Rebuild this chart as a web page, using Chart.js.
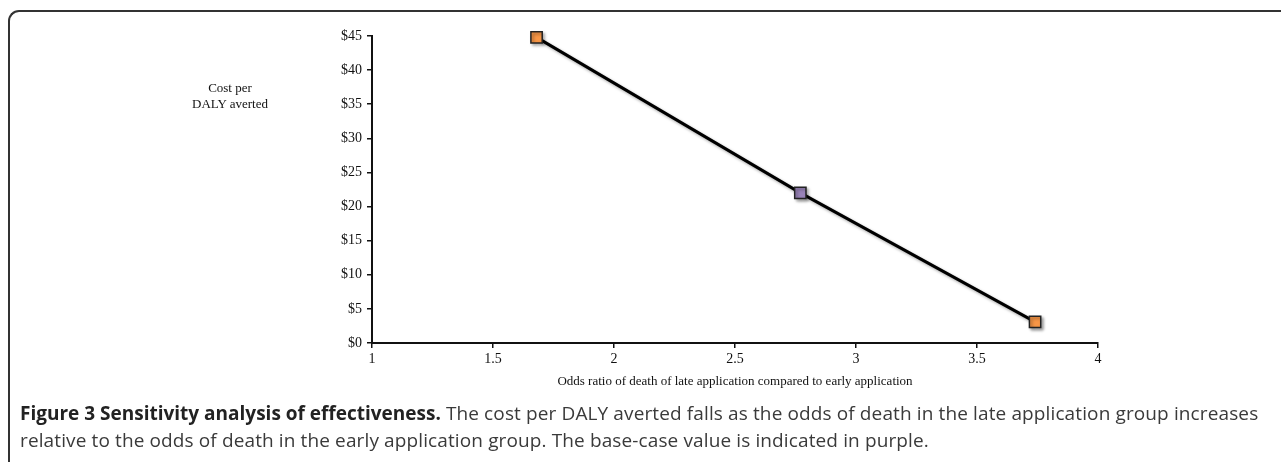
<!DOCTYPE html>
<html>
<head>
<meta charset="utf-8">
<script src="https://cdn.jsdelivr.net/npm/chart.js@4/dist/chart.umd.min.js"></script>
<style>
  html, body { margin: 0; padding: 0; background: #fff; }
  #wrap { position: relative; width: 1281px; height: 462px; overflow: hidden; }
  #frame {
    position: absolute; left: 8px; top: 10px; width: 1290px; height: 470px;
    border-left: 2px solid #333; border-top: 2px solid #333;
    border-top-left-radius: 11px;
  }
  #chart { position: absolute; left: 0; top: 0; }
  #ytitle {
    position: absolute; left: 160px; top: 80px; width: 140px;
    text-align: center; font: 13px "Liberation Serif", "DejaVu Serif", serif;
    line-height: 16px; color: #111;
  }
  #caption {
    position: absolute; left: 20px; top: 400px; white-space: nowrap;
    font: 19px "Open Sans", sans-serif; letter-spacing: 0.12px;
    line-height: 27px; color: #3a3a3a;
  }
  #caption b { color: #222; letter-spacing: 0; }
</style>
</head>
<body>
<div id="wrap">
  <div id="frame"></div>
  <canvas id="chart" width="1281" height="462"></canvas>
  <div id="ytitle">Cost per<br>DALY averted</div>
  <div id="caption"><b>Figure 3 Sensitivity analysis of effectiveness.</b> The cost per DALY averted falls as the odds of death in the late application group increases<br>relative to the odds of death in the early application group. The base-case value is indicated in purple.</div>
</div>
<script>
const oddsRatios = [1.68, 2.77, 3.74];
const costPerDaly = [44.8, 22.0, 3.1];
const pointColors = ['#F79646', '#9983B8', '#F79646'];
const xTicks = [1, 1.5, 2, 2.5, 3, 3.5, 4];
const yTicks = [0, 5, 10, 15, 20, 25, 30, 35, 40, 45];

const points = oddsRatios.map((x, i) => ({ x: x, y: costPerDaly[i] }));

const lineShadow = {
  id: 'lineShadow',
  beforeDatasetsDraw(chart) {
    const ctx = chart.ctx;
    ctx.save();
    ctx.shadowColor = 'rgba(0,0,0,0.35)';
    ctx.shadowBlur = 3;
    ctx.shadowOffsetX = 2;
    ctx.shadowOffsetY = 2;
  },
  afterDatasetsDraw(chart) {
    chart.ctx.restore();
  }
};

const serif = { family: '"Liberation Serif", "DejaVu Serif", serif', size: 14 };

new Chart(document.getElementById('chart').getContext('2d'), {
  type: 'scatter',
  data: {
    datasets: [{
      data: points,
      showLine: true,
      clip: false,
      borderColor: '#000',
      borderWidth: 3,
      pointStyle: 'rect',
      pointRadius: 8,
      pointBorderWidth: 1.5,
      pointBorderColor: '#222',
      pointBackgroundColor: pointColors
    }]
  },
  options: {
    responsive: false,
    animation: false,
    layout: { padding: { left: 0, right: 183, top: 36, bottom: 69 } },
    plugins: { legend: { display: false }, tooltip: { enabled: false } },
    scales: {
      x: {
        type: 'linear', min: 1, max: 4,
        afterBuildTicks: (s) => { s.ticks = xTicks.map(v => ({ value: v })); },
        afterFit: (s) => { s.height = 50; },
        border: { color: '#111', width: 2 },
        grid: { drawOnChartArea: false, tickLength: 5, color: '#111', lineWidth: 1.5 },
        ticks: { color: '#111', font: serif, padding: 3, maxRotation: 0, callback: (v) => String(v) },
        title: {
          display: true, text: 'Odds ratio of death of late application compared to early application',
          color: '#111', font: { family: serif.family, size: 13 }, padding: { top: 4, bottom: 4 }
        }
      },
      y: {
        type: 'linear', min: 0, max: 45,
        afterBuildTicks: (s) => { s.ticks = yTicks.map(v => ({ value: v })); },
        afterFit: (s) => { s.width = 372; },
        border: { color: '#111', width: 2 },
        grid: { drawOnChartArea: false, tickLength: 5, color: '#111', lineWidth: 1.5 },
        ticks: { color: '#111', font: serif, padding: 5, callback: (v) => '$' + v }
      }
    }
  },
  plugins: [lineShadow]
});
</script>
</body>
</html>
